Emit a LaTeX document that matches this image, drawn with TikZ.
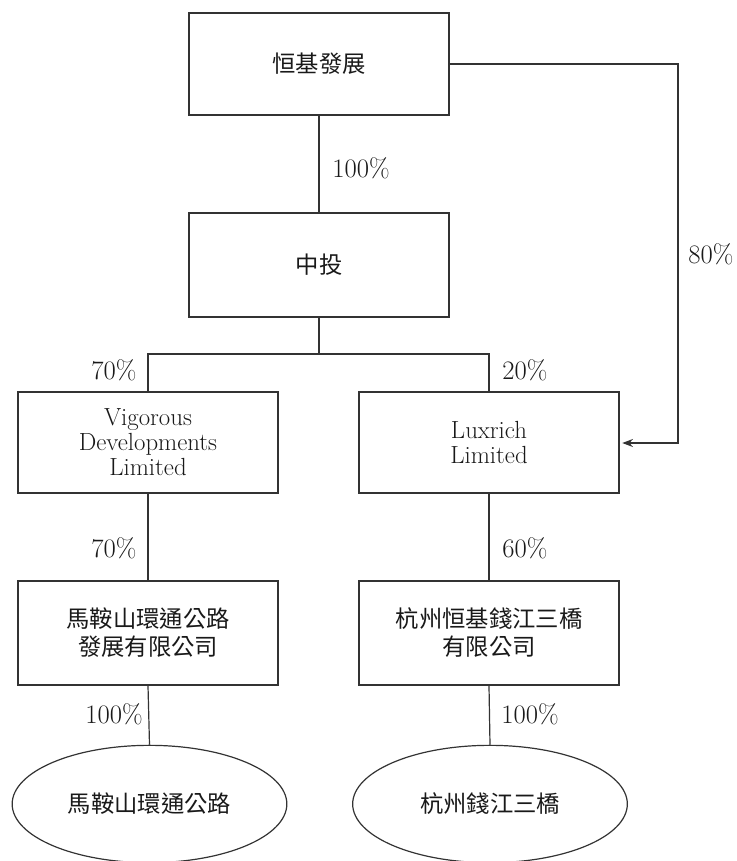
\documentclass[tikz,border=0pt]{standalone}
\usepackage{fontspec}
\newfontfamily\cjk{Noto Sans CJK TC}
\usetikzlibrary{shapes.geometric,arrows.meta}
\begin{document}
\begin{tikzpicture}[x=0.75pt,y=-0.75pt,
  conn/.style={draw=black!80,line width=0.9pt},
  box/.style={rectangle,draw=black!80,line width=0.9pt,minimum width=195pt,inner sep=0pt,align=center,text=black!90},
  oval/.style={ellipse,draw=black!80,line width=0.9pt,minimum width=206pt,minimum height=88pt,inner sep=0pt,text=black!90},
  pct/.style={inner sep=0pt,text=black!90,font=\fontsize{20}{22}\selectfont},
  cjktext/.style={font=\cjk\fontsize{17.5}{21}\selectfont},
  lattext/.style={font=\fontsize{18.6}{18.75}\selectfont}]
\useasboundingbox (0,0) rectangle (737,861);
% boxes
\node[box,cjktext,minimum height=76.5pt] (A) at (319,64) {恒基發展};
\node[box,cjktext,minimum height=78pt] (B) at (319,265) {中投};
\node[box,lattext,minimum height=75.75pt] (C) at (148,442.5) {Vigorous\\Developments\\Limited};
\node[box,lattext,minimum height=75.75pt] (D) at (489,442.5) {Luxrich\\Limited};
\node[box,cjktext,minimum height=78pt] (E) at (148,633) {馬鞍山環通公路\\發展有限公司};
\node[box,cjktext,minimum height=78pt] (F) at (489,633) {杭州恒基錢江三橋\\有限公司};
\node[oval,cjktext] (G) at (149.5,804) {馬鞍山環通公路};
\node[oval,cjktext] (H) at (490,804) {杭州錢江三橋};
% connectors
\coordinate (J) at (319,354);
\coordinate (R1) at (678,64);
\coordinate (R2) at (678,443);
\draw[conn] (A.south) -- (B.north);
\draw[conn] (B.south) -- (J);
\draw[conn] (C.north) |- (J) -| (D.north);
\draw[conn,-{Stealth[length=8pt,width=6pt]},shorten >=2pt] (A.east) -- (R1) -- (R2) -- (R2 -| D.east);
\draw[conn] (C.south) -- (E.north);
\draw[conn] (D.south) -- (F.north);
\draw[conn] (E.south) -- (G.north);
\draw[conn] (F.south) -- (H.north);
% labels
\node[pct] (p1) at (361,168) {100\%};
\node[pct] (p2) at (711,254) {80\%};
\node[pct] (p3) at (114,370) {70\%};
\node[pct] (p4) at (525,370) {20\%};
\node[pct] (p5) at (114,548) {70\%};
\node[pct] (p6) at (525,548) {60\%};
\node[pct] (p7) at (114,714) {100\%};
\node[pct] (p8) at (530,714) {100\%};
\end{tikzpicture}
\end{document}
